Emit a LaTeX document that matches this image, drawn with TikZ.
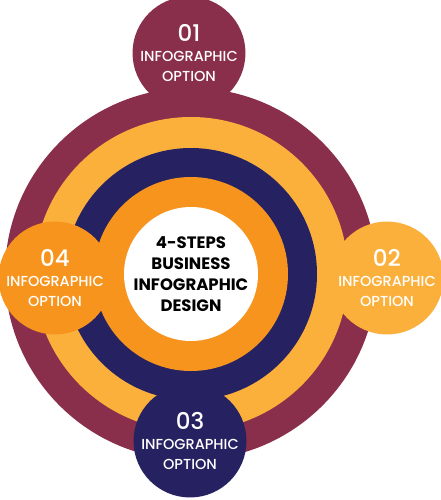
\documentclass[tikz,border=0pt]{standalone}
\usepackage{fontspec}
\setmainfont{Poppins}
\newfontfamily\optionfont{Poppins}[UprightFont=* Medium, BoldFont=* SemiBold]
\usepackage{xcolor}
\usepackage{tikz}
\usetikzlibrary{positioning}

\definecolor{wine}{RGB}{137,46,75}
\definecolor{amber}{RGB}{251,176,59}
\definecolor{indigo}{RGB}{38,34,98}
\definecolor{tangerine}{RGB}{247,148,29}

\begin{document}
\begin{tikzpicture}[x=1pt, y=-1pt,
  ring node/.style={circle, inner sep=0pt, minimum size=#1},
  option node/.style={circle, inner sep=0pt, minimum size=112pt, align=center,
    text=white, font=\optionfont\fontsize{14.5}{20}\selectfont},
  title node/.style={align=center, text=black, font=\bfseries\fontsize{16.5}{21}\selectfont}]

  \useasboundingbox [fill=white] (0,0) rectangle (441,500);

  \node [ring node=372pt, fill=wine] (outer) at (191,274) {};
  \node [ring node=314pt, fill=amber] (second) at (outer) {};
  \node [ring node=252pt, fill=indigo] (third) at (outer) {};
  \node [ring node=194pt, fill=tangerine] (fourth) at (outer) {};
  \node [ring node=134pt, fill=white] (core) at (outer) {};

  \node [option node, fill=wine] (opt1) at (189,53)
    {{\fontsize{23}{20}\selectfont 01}\\INFOGRAPHIC\\OPTION};
  \node [option node, fill=amber] (opt2) at (387,278)
    {{\fontsize{23}{20}\selectfont 02}\\INFOGRAPHIC\\OPTION};
  \node [option node, fill=indigo] (opt3) at (190,441)
    {{\fontsize{23}{20}\selectfont 03}\\INFOGRAPHIC\\OPTION};
  \node [option node, fill=tangerine] (opt4) at (55,278)
    {{\fontsize{23}{20}\selectfont 04}\\INFOGRAPHIC\\OPTION};

  \node [title node] (title) at (core) {4-STEPS\\BUSINESS\\INFOGRAPHIC\\DESIGN};
\end{tikzpicture}
\end{document}
